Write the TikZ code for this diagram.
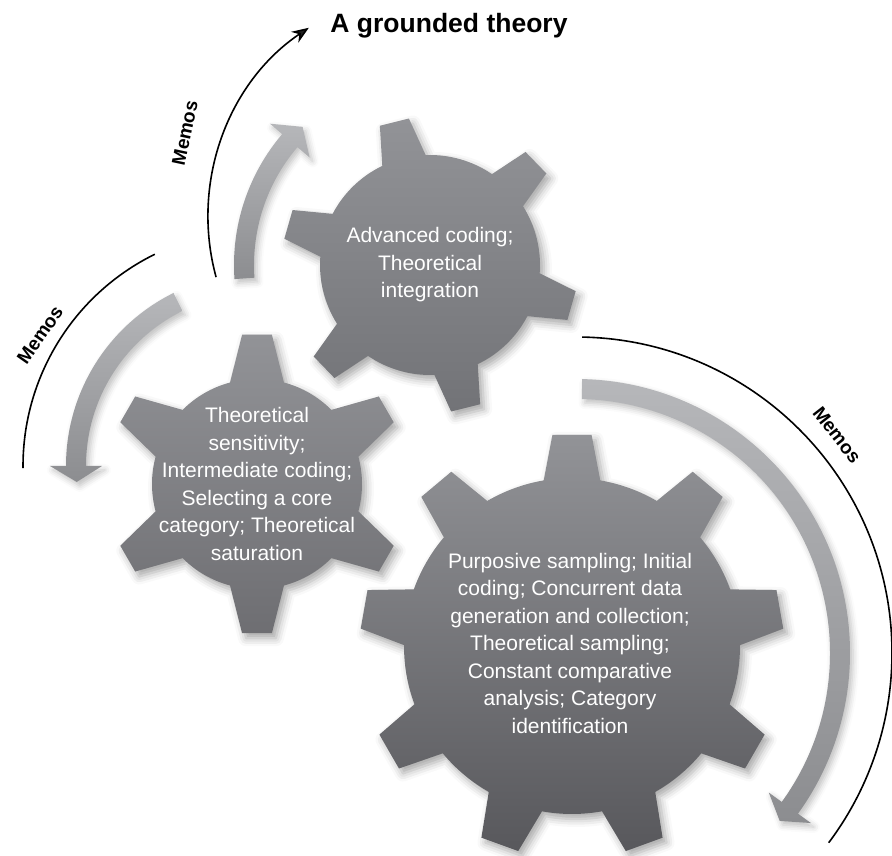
\documentclass[tikz,border=0pt]{standalone}
\usepackage{fontspec}
\setmainfont{Liberation Sans}
\usetikzlibrary{calc,arrows.meta,shadows.blur}

\definecolor{geartop}{RGB}{146,147,151}
\definecolor{gearbotA}{RGB}{114,115,119}
\definecolor{gearbotB}{RGB}{110,110,114}
\definecolor{gearbotC}{RGB}{88,88,92}
\definecolor{bandlight}{RGB}{182,183,186}
\definecolor{banddark}{RGB}{140,141,144}

% style, centre, teeth, body radius, tip radius, first tooth, base half angle, tip half angle
\newcommand{\gear}[8]{%
  \path[#1,shift={(#2)}] (#6-#7:#4)
    \foreach \k [evaluate=\k as \a using #6+(\k-1)*360/#3] in {1,...,#3}{
      -- (\a-#7:#4) -- (\a-#8:#5) -- (\a+#8:#5) -- (\a+#7:#4)
      arc[start angle=\a+#7, end angle=\a+360/#3-#7, radius=#4]} -- cycle;}

% centre, radius, start angle, head base angle, tip angle
\newcommand{\memoarrow}[5]{%
  \pgfmathsetmacro\ro{#2+10}\pgfmathsetmacro\ri{#2-10}%
  \pgfmathsetmacro\ho{#2+26}\pgfmathsetmacro\hi{#2-26}%
  \path[memoband,shift={(#1)}] (#3:\ro) arc[start angle=#3, end angle=#4, radius=\ro]
    -- (#4:\ho) -- (#5:#2) -- (#4:\hi) -- (#4:\ri)
    arc[start angle=#4, end angle=#3, radius=\ri] -- cycle;}

\begin{document}
\begin{tikzpicture}[x=1pt,y=1pt,
  gearbody/.style={blur shadow={shadow xshift=4pt,shadow yshift=-5pt,shadow blur radius=8pt,shadow opacity=35},top color=geartop},
  memoband/.style={blur shadow={shadow xshift=3pt,shadow yshift=-4pt,shadow blur radius=6pt,shadow opacity=25},top color=bandlight,bottom color=banddark},
  memoline/.style={line width=1.6pt},
  gearlabel/.style={text=white,align=center,font=\fontsize{21}{27.5}\selectfont},
  memolabel/.style={font=\bfseries\fontsize{19}{22}\selectfont}]
  \useasboundingbox (0,0) rectangle (892,855);
  \coordinate (topc) at (430,590); \coordinate (leftc) at (257,371);
  \coordinate (bigc) at (572,209);
  \coordinate (leftarc) at (259,389); \coordinate (toparc) at (436,638);
  \coordinate (rightarc) at (576,202);

  % memo arrows
  \memoarrow{leftarc}{183}{116.3}{180}{185}
  \memoarrow{toparc|-topc}{192}{184}{139.6}{134}
  \memoarrow{rightarc}{264}{88.7}{-35.9}{-39.5}
  \draw[memoline] (leftarc) ++(116.2:236) arc[start angle=116.2,end angle=180.5,radius=236];
  \draw[memoline,-{Stealth[length=17pt,width=13pt]}] (toparc) ++(195.3:228) arc[start angle=195.3,end angle=123.9,radius=228];
  \draw[memoline] (rightarc) ++(88.9:316) arc[start angle=88.9,end angle=-36.9,radius=316];

  % gears
  \gear{gearbody,bottom color=gearbotA}{topc}{6}{110}{148}{104}{11.7}{5.8}
  \gear{gearbody,bottom color=gearbotB}{leftc}{6}{105}{150}{90}{14.9}{5.7}
  \gear{gearbody,bottom color=gearbotC}{bigc}{9}{168}{212}{90}{9.7}{5.3}

  \node[gearlabel] (integration) at (topc) {Advanced coding;\\Theoretical\\integration};
  \node[gearlabel] (saturation) at (leftc) {Theoretical\\sensitivity;\\Intermediate coding;\\Selecting a core\\category; Theoretical\\saturation};
  \node[gearlabel] (identification) at ($(bigc)+(-2,3)$) {Purposive sampling; Initial\\coding; Concurrent data\\generation and collection;\\Theoretical sampling;\\Constant comparative\\analysis; Category\\identification};

  \node[font=\bfseries\fontsize{26.5}{30}\selectfont,anchor=base] (title) at (449,822) {A grounded theory};
  \node[memolabel,rotate=78] (memotop) at (185,722) {Memos};
  \node[memolabel,rotate=55] (memoleft) at (40,520) {Memos};
  \node[memolabel,rotate=-52] (memoright) at (837,420) {Memos};
\end{tikzpicture}
\end{document}
